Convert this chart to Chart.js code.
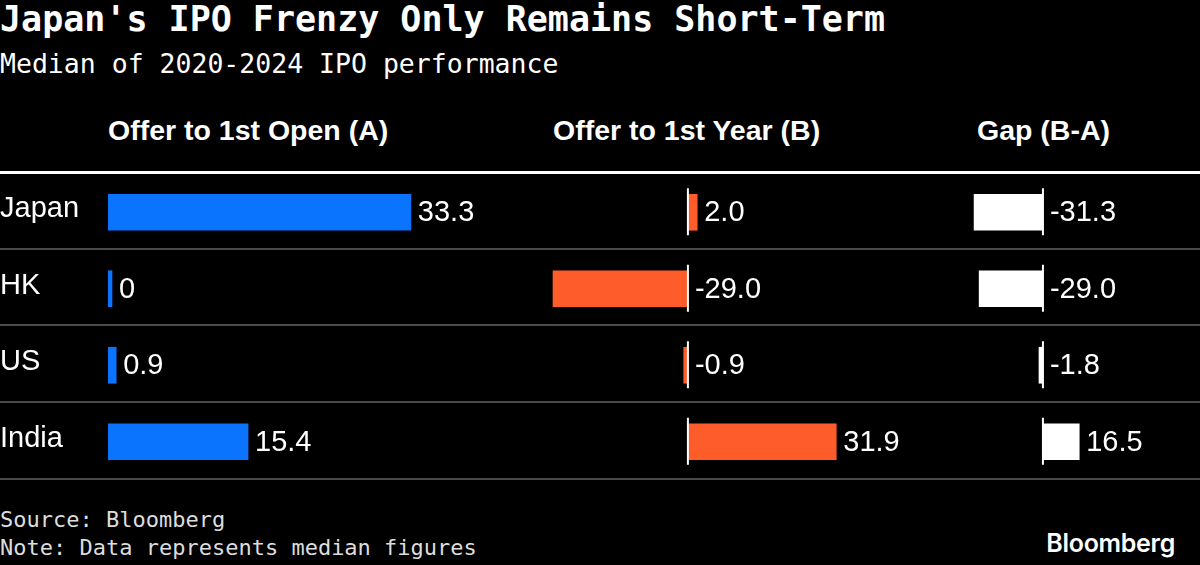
<!DOCTYPE html>
<html>
<head>
<meta charset="utf-8">
<script src="https://cdn.jsdelivr.net/npm/chart.js@4.4.1/dist/chart.umd.min.js"></script>
<style>
  body { margin: 0; background: #000; width: 1200px; height: 565px; overflow: hidden; position: relative; color: #fff; }
  .abs { position: absolute; white-space: nowrap; }
  #title { left: 0; top: 2px; font: bold 35px/35px "DejaVu Sans Mono"; }
  #subtitle { left: 0; top: 51px; font: 26.5px/26px "DejaVu Sans Mono"; }
  .head { top: 116px; font: bold 28.5px/28px "Liberation Sans"; }
  .rule { left: 0; width: 1200px; height: 2px; background: #4a4a4a; }
  #foot { left: 0; top: 506px; font: 22px/28px "DejaVu Sans Mono"; color: #ddd; }
  #logo { right: 25px; top: 528px; font: 600 25px/30px "Inter"; letter-spacing: -0.3px; }
  canvas { position: absolute; top: 174px; }
</style>
</head>
<body>
<div class="abs" id="title">Japan's IPO Frenzy Only Remains Short-Term</div>
<div class="abs" id="subtitle">Median of 2020-2024 IPO performance</div>
<div class="abs head" style="left:108px">Offer to 1st Open (A)</div>
<div class="abs head" style="left:553px">Offer to 1st Year (B)</div>
<div class="abs head" style="left:977px">Gap (B-A)</div>
<div class="abs rule" style="top:171px;height:3px;background:#fff"></div>
<div class="abs rule" style="top:248px"></div>
<div class="abs rule" style="top:324px"></div>
<div class="abs rule" style="top:401px"></div>
<div class="abs rule" style="top:478px"></div>

<canvas id="colA" width="540" height="306" style="left:0"></canvas>
<canvas id="colB" width="420" height="306" style="left:540px"></canvas>
<canvas id="colC" width="240" height="306" style="left:960px"></canvas>

<div class="abs" id="foot">Source: Bloomberg<br>Note: Data represents median figures</div>
<div class="abs" id="logo">Bloomberg</div>

<script>
var countries = ['Japan', 'HK', 'US', 'India'];
var offerToOpen = [33.3, 0, 0.9, 15.4];
var offerToYear = [2.0, -29.0, -0.9, 31.9];
var gapBA = [-31.3, -29.0, -1.8, 16.5];

Chart.defaults.font.family = 'Liberation Sans';
Chart.defaults.color = '#fff';

function fmt(v) {
  return v === 0 ? '0' : v.toFixed(1);
}

// value text next to the bar end (or the zero line for negatives)
var valueLabels = {
  id: 'valueLabels',
  afterDatasetsDraw: function(chart) {
    var ctx = chart.ctx;
    var zero = chart.scales.x.getPixelForValue(0);
    var meta = chart.getDatasetMeta(0);
    var data = chart.data.datasets[0].data;
    ctx.save();
    ctx.fillStyle = '#fff';
    ctx.font = '29px "Liberation Sans"';
    ctx.textBaseline = 'middle';
    ctx.textAlign = 'left';
    meta.data.forEach(function(bar, i) {
      var x = Math.max(bar.x, bar.base, zero) + 7;
      ctx.fillText(fmt(data[i]), x, bar.y + 1);
    });
    ctx.restore();
  }
};

// short white zero marks on each row
var zeroMarks = {
  id: 'zeroMarks',
  afterDatasetsDraw: function(chart, args, opts) {
    if (!opts.show) return;
    var ctx = chart.ctx;
    var zero = chart.scales.x.getPixelForValue(0);
    ctx.save();
    ctx.strokeStyle = '#fff';
    ctx.lineWidth = 2;
    chart.getDatasetMeta(0).data.forEach(function(bar) {
      ctx.beginPath();
      ctx.moveTo(zero, bar.y - 24);
      ctx.lineTo(zero, bar.y + 23);
      ctx.stroke();
    });
    ctx.restore();
  }
};

function make_chart(id, values, color, xmin, xmax, showLabels, marks) {
  var ctx = document.getElementById(id).getContext('2d');
  var yAxis = {
    display: showLabels,
    grid: { display: false, drawTicks: false },
    border: { display: false },
    ticks: {
      crossAlign: 'far',
      color: '#fff',
      labelOffset: -3,
      padding: 0,
      font: { size: 29 }
    }
  };
  if (showLabels) {
    yAxis.afterFit = function(scale) {
      scale.width = 108;
      scale.paddingTop = 0;
      scale.paddingBottom = 0;
    };
  }
  return new Chart(ctx, {
    type: 'bar',
    data: {
      labels: countries,
      datasets: [{
        data: values,
        backgroundColor: color,
        borderWidth: 0,
        barThickness: 36,
        minBarLength: showLabels ? 4 : 0
      }]
    },
    options: {
      indexAxis: 'y',
      responsive: false,
      animation: false,
      layout: { padding: 0 },
      plugins: {
        legend: { display: false },
        tooltip: { enabled: false },
        zeroMarks: { show: marks }
      },
      scales: {
        x: {
          display: false,
          min: xmin,
          max: xmax
        },
        y: yAxis
      }
    },
    plugins: [valueLabels, zeroMarks]
  });
}

make_chart('colA', offerToOpen, '#0b74ff', 0, 47.5, true, false);
make_chart('colB', offerToYear, '#ff5c2c', -31.8, 58.5, false, true);
make_chart('colC', gapBA, '#ffffff', -37.7, 71.4, false, true);
</script>
</body>
</html>
